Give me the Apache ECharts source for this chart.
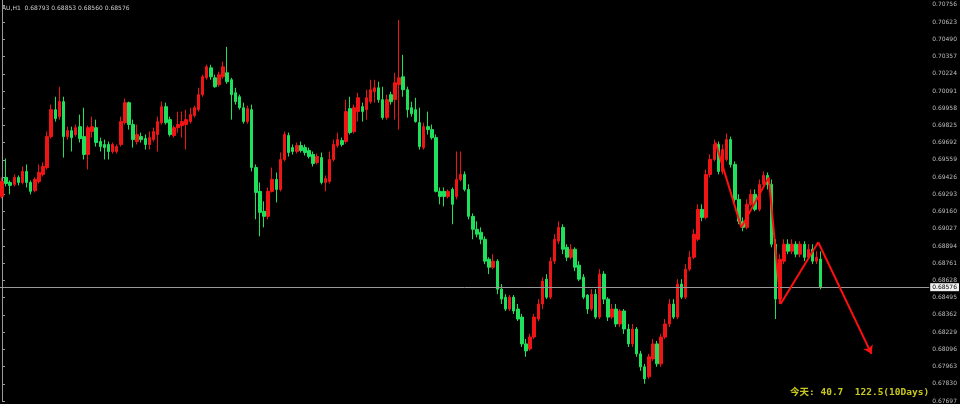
<!DOCTYPE html>
<html><head><meta charset="utf-8">
<script src="https://cdn.jsdelivr.net/npm/echarts/dist/echarts.min.js"></script>
<style>html,body{margin:0;padding:0;background:#000;}#c{width:960px;height:404px;}</style>
</head><body><div id="c"></div>
<script>
// ---- data ----
const symbolName = 'AU,H1';
const lastOHLC = [0.68793, 0.68853, 0.68560, 0.68576];
const currentPrice = 0.68576;
const slotCount = 227; // candle slots incl. empty right margin
const categories = Array.from({length: slotCount}, (_, i) => 'H' + i);
// [open, close, low, high]
const candles = [
[0.69277,0.69393,0.69262,0.69424],[0.69424,0.69377,0.69354,0.69570],[0.69385,0.69362,0.69293,0.69400],[0.69370,0.69424,0.69354,0.69447],
[0.69424,0.69385,0.69362,0.69439],[0.69385,0.69470,0.69370,0.69508],[0.69470,0.69385,0.69346,0.69524],[0.69385,0.69316,0.69293,0.69400],
[0.69323,0.69408,0.69308,0.69424],[0.69393,0.69462,0.69377,0.69524],[0.69447,0.69508,0.69431,0.69539],[0.69500,0.69739,0.69485,0.69778],
[0.69739,0.69947,0.69724,0.69986],[0.69947,0.69878,0.69855,0.70047],[0.69893,0.70009,0.69870,0.70124],[0.70009,0.69739,0.69577,0.70047],
[0.69739,0.69785,0.69716,0.69816],[0.69785,0.69731,0.69624,0.69816],[0.69755,0.69808,0.69739,0.69832],[0.69816,0.69724,0.69693,0.69909],
[0.69739,0.69601,0.69562,0.69962],[0.69601,0.69808,0.69485,0.69824],[0.69778,0.69816,0.69731,0.69893],[0.69808,0.69693,0.69662,0.69870],
[0.69701,0.69662,0.69624,0.69731],[0.69678,0.69654,0.69562,0.69716],[0.69678,0.69624,0.69562,0.69701],[0.69624,0.69678,0.69608,0.69693],
[0.69624,0.69662,0.69608,0.69678],[0.69678,0.69855,0.69662,0.69893],[0.69847,0.70001,0.69832,0.70032],[0.70001,0.69832,0.69793,0.70009],
[0.69832,0.69716,0.69654,0.69870],[0.69701,0.69755,0.69678,0.69832],[0.69739,0.69716,0.69693,0.69770],[0.69724,0.69678,0.69639,0.69755],
[0.69678,0.69731,0.69639,0.69778],[0.69716,0.69778,0.69701,0.69808],[0.69755,0.69855,0.69624,0.69893],[0.69847,0.69970,0.69832,0.70009],
[0.69970,0.69847,0.69832,0.70001],[0.69870,0.69755,0.69739,0.69893],[0.69747,0.69808,0.69731,0.69824],[0.69808,0.69832,0.69770,0.69932],
[0.69824,0.69855,0.69731,0.69932],[0.69832,0.69870,0.69639,0.69947],[0.69855,0.69909,0.69839,0.69962],[0.69901,0.69962,0.69886,0.69978],
[0.69947,0.70063,0.69932,0.70116],[0.70063,0.70201,0.70047,0.70217],[0.70193,0.70278,0.70178,0.70294],[0.70270,0.70201,0.70178,0.70294],
[0.70193,0.70124,0.70116,0.70217],[0.70140,0.70217,0.70124,0.70240],[0.70201,0.70278,0.70186,0.70317],[0.70232,0.70163,0.70147,0.70432],
[0.70178,0.70063,0.69870,0.70193],[0.70078,0.70009,0.69986,0.70116],[0.70047,0.69962,0.69947,0.70063],[0.69962,0.69855,0.69839,0.70001],
[0.69855,0.69955,0.69839,0.69978],[0.69947,0.69500,0.69470,0.69986],[0.69500,0.69308,0.69100,0.69524],[0.69316,0.69154,0.68969,0.69385],
[0.69162,0.69123,0.69038,0.69239],[0.69123,0.69316,0.69100,0.69346],[0.69316,0.69408,0.69308,0.69500],[0.69408,0.69331,0.69231,0.69462],
[0.69331,0.69562,0.69316,0.69616],[0.69562,0.69755,0.69547,0.69778],[0.69747,0.69616,0.69585,0.69770],[0.69654,0.69624,0.69601,0.69678],
[0.69624,0.69670,0.69608,0.69693],[0.69670,0.69631,0.69616,0.69701],[0.69654,0.69616,0.69593,0.69678],[0.69631,0.69585,0.69570,0.69654],
[0.69601,0.69531,0.69508,0.69624],[0.69539,0.69585,0.69524,0.69608],[0.69577,0.69385,0.69370,0.69616],[0.69385,0.69416,0.69316,0.69439],
[0.69393,0.69562,0.69377,0.69624],[0.69562,0.69678,0.69547,0.69716],[0.69670,0.69716,0.69654,0.69770],[0.69708,0.69678,0.69662,0.69731],
[0.69701,0.69932,0.69685,0.70024],[0.69955,0.69770,0.69755,0.70047],[0.69778,0.69962,0.69762,0.69986],[0.69932,0.70039,0.69855,0.70078],
[0.69970,0.69932,0.69855,0.70001],[0.69947,0.70039,0.69870,0.70101],[0.70009,0.70101,0.69993,0.70178],[0.70086,0.70116,0.70001,0.70178],
[0.70116,0.70024,0.70001,0.70163],[0.70024,0.69886,0.69870,0.70124],[0.69886,0.70024,0.69870,0.70063],[0.70063,0.70009,0.69986,0.70086],
[0.70024,0.70155,0.69870,0.70232],[0.70140,0.70193,0.69793,0.70640],[0.70201,0.70101,0.70047,0.70371],[0.70101,0.69947,0.69886,0.70124],
[0.69962,0.69916,0.69893,0.70009],[0.69947,0.69855,0.69847,0.70039],[0.69847,0.69662,0.69639,0.69962],[0.69654,0.69816,0.69639,0.69847],
[0.69816,0.69793,0.69755,0.69932],[0.69793,0.69731,0.69716,0.69832],[0.69731,0.69316,0.69308,0.69755],[0.69316,0.69277,0.69216,0.69346],
[0.69316,0.69277,0.69200,0.69346],[0.69277,0.69316,0.69262,0.69331],[0.69331,0.69216,0.69062,0.69346],[0.69277,0.69408,0.69254,0.69624],
[0.69408,0.69447,0.69393,0.69624],[0.69447,0.69331,0.69316,0.69470],[0.69331,0.69123,0.69100,0.69370],[0.69123,0.69023,0.68946,0.69146],
[0.69023,0.68985,0.68961,0.69085],[0.69000,0.68946,0.68908,0.69038],[0.68946,0.68777,0.68754,0.68969],[0.68792,0.68730,0.68677,0.68807],
[0.68730,0.68777,0.68715,0.68831],[0.68777,0.68561,0.68522,0.68792],[0.68561,0.68484,0.68446,0.68600],[0.68499,0.68407,0.68392,0.68522],
[0.68407,0.68499,0.68392,0.68515],[0.68499,0.68392,0.68369,0.68515],[0.68407,0.68330,0.68315,0.68446],[0.68345,0.68138,0.68114,0.68369],
[0.68138,0.68084,0.68038,0.68176],[0.68099,0.68191,0.68084,0.68215],[0.68191,0.68345,0.68176,0.68369],[0.68330,0.68446,0.68315,0.68484],
[0.68446,0.68623,0.68407,0.68653],[0.68638,0.68499,0.68484,0.68677],[0.68499,0.68777,0.68484,0.68807],[0.68777,0.68946,0.68754,0.68985],
[0.68931,0.69038,0.68908,0.69085],[0.69038,0.68869,0.68831,0.69062],[0.68884,0.68807,0.68777,0.68908],[0.68807,0.68869,0.68792,0.68908],
[0.68869,0.68730,0.68700,0.68884],[0.68746,0.68638,0.68623,0.68777],[0.68653,0.68499,0.68484,0.68677],[0.68515,0.68407,0.68369,0.68522],
[0.68407,0.68522,0.68392,0.68561],[0.68522,0.68345,0.68330,0.68561],[0.68345,0.68677,0.68330,0.68715],[0.68677,0.68484,0.68446,0.68700],
[0.68484,0.68345,0.68315,0.68499],[0.68345,0.68407,0.68330,0.68446],[0.68407,0.68292,0.68268,0.68446],[0.68292,0.68392,0.68268,0.68407],
[0.68392,0.68253,0.68215,0.68407],[0.68253,0.68138,0.68114,0.68292],[0.68138,0.68253,0.68114,0.68292],[0.68253,0.68061,0.68038,0.68268],
[0.68061,0.67961,0.67930,0.68084],[0.67961,0.67868,0.67830,0.67984],[0.67884,0.68038,0.67868,0.68061],[0.68022,0.68138,0.68007,0.68176],
[0.68138,0.67984,0.67961,0.68161],[0.67984,0.68191,0.67961,0.68215],[0.68191,0.68292,0.68176,0.68330],[0.68292,0.68446,0.68268,0.68484],
[0.68446,0.68345,0.68330,0.68484],[0.68345,0.68600,0.68330,0.68638],[0.68600,0.68499,0.68484,0.68638],[0.68499,0.68715,0.68484,0.68754],
[0.68715,0.68807,0.68700,0.68854],[0.68807,0.68985,0.68792,0.69023],[0.68946,0.69177,0.68931,0.69216],[0.69177,0.69115,0.69085,0.69216],
[0.69115,0.69447,0.69100,0.69485],[0.69447,0.69562,0.69424,0.69601],[0.69562,0.69678,0.69547,0.69716],[0.69678,0.69470,0.69447,0.69701],
[0.69470,0.69639,0.69447,0.69678],[0.69562,0.69716,0.69547,0.69762],[0.69716,0.69524,0.69500,0.69739],[0.69524,0.69254,0.69231,0.69547],
[0.69254,0.69085,0.69062,0.69293],[0.69085,0.69038,0.69008,0.69115],[0.69038,0.69216,0.69023,0.69254],[0.69216,0.69293,0.69200,0.69331],
[0.69293,0.69177,0.69162,0.69331],[0.69177,0.69370,0.69162,0.69408],[0.69370,0.69439,0.69346,0.69470],[0.69439,0.69370,0.69331,0.69462],
[0.69370,0.68908,0.68884,0.69408],[0.68908,0.68484,0.68330,0.68946],[0.68484,0.68792,0.68446,0.68831],[0.68777,0.68908,0.68754,0.68946],
[0.68908,0.68854,0.68831,0.68946],[0.68854,0.68908,0.68831,0.68946],[0.68908,0.68831,0.68807,0.68931],[0.68831,0.68908,0.68807,0.68931],
[0.68908,0.68807,0.68777,0.68931],[0.68807,0.68869,0.68792,0.68908],[0.68869,0.68777,0.68754,0.68908],[0.68777,0.68807,0.68754,0.68854],
[0.68793,0.68576,0.68560,0.68853]
];
// hand-drawn red trend arrow: positions in candle-slot units and prices
const arrowX = [174.3, 180.6, 187.3, 190.2, 199.4, 212.4];
const arrowY = [0.69693, 0.69038, 0.69424, 0.68446, 0.68923, 0.68061];
// price axis
const axisMin = 0.67697, axisMax = 0.70794, axisStep = 0.00133;
const footerText = '今天: 40.7  122.5(10Days)';

// ---- chart ----
const UP = '#f01515', DOWN = '#1fe05a';
const chart = echarts.init(document.getElementById('c'), null, {renderer: 'canvas'});
const segs = [];
for (let i = 0; i < arrowX.length - 2; i++) segs.push({coords: [[arrowX[i], arrowY[i]], [arrowX[i+1], arrowY[i+1]]]});
const n = arrowX.length;
const lastSeg = [{coords: [[arrowX[n-2], arrowY[n-2]], [arrowX[n-1], arrowY[n-1]]]}];
const header = symbolName + '  ' + lastOHLC.map(v => v.toFixed(5)).join(' ');

chart.setOption({
  backgroundColor: '#000',
  animation: false,
  grid: {left: -1.5, right: 24, top: 0, bottom: 1, containLabel: false},
  xAxis: [
    {type: 'category', data: categories, show: false, boundaryGap: true},
    {type: 'value', min: -0.5, max: slotCount - 0.5, show: false}
  ],
  yAxis: {
    type: 'value', position: 'right', min: axisMin, max: axisMax, interval: axisStep,
    scale: true,
    axisLine: {show: true, lineStyle: {color: '#9a9a9a', width: 1}},
    axisTick: {show: true, length: 3, lineStyle: {color: '#9a9a9a'}},
    splitLine: {show: false},
    axisLabel: {show: true, color: '#bdbdbd', fontSize: 6, margin: 3, fontFamily: 'DejaVu Sans',
      showMaxLabel: false, formatter: v => v.toFixed(5)}
  },
  series: [
    {
      type: 'candlestick', data: candles, barWidth: 3,
      itemStyle: {color: UP, color0: DOWN, borderColor: UP, borderColor0: DOWN, borderWidth: 1},
      markLine: {
        silent: true, symbol: ['none', 'none'], precision: 5,
        lineStyle: {color: '#9a9a9a', width: 1, type: 'solid'},
        label: {show: true, position: 'end', formatter: () => currentPrice.toFixed(5),
          backgroundColor: '#f0f0f0', color: '#000', fontSize: 6, padding: [1, 2], distance: 1, fontFamily: 'DejaVu Sans'},
        data: [{yAxis: currentPrice}]
      }
    },
    {
      type: 'lines', coordinateSystem: 'cartesian2d', xAxisIndex: 1, yAxisIndex: 0,
      lineStyle: {color: '#ff1010', width: 2, opacity: 1}, symbol: ['none', 'none'], data: segs, z: 5
    },
    {
      type: 'lines', coordinateSystem: 'cartesian2d', xAxisIndex: 1, yAxisIndex: 0,
      lineStyle: {color: '#ff1010', width: 2, opacity: 1}, symbol: ['none', 'arrow'], symbolSize: 8, data: lastSeg, z: 5
    }
  ],
  graphic: [
    {type: 'text', left: 2, top: 5, style: {text: header, fill: '#cfcfcf', font: '6px "DejaVu Sans"'}},
    {type: 'text', left: 790, top: 388, style: {text: footerText, fill: '#c8c81e', font: 'bold 9.5px "DejaVu Sans Mono", "Noto Sans CJK SC"'}}
  ]
});
</script>
</body></html>
